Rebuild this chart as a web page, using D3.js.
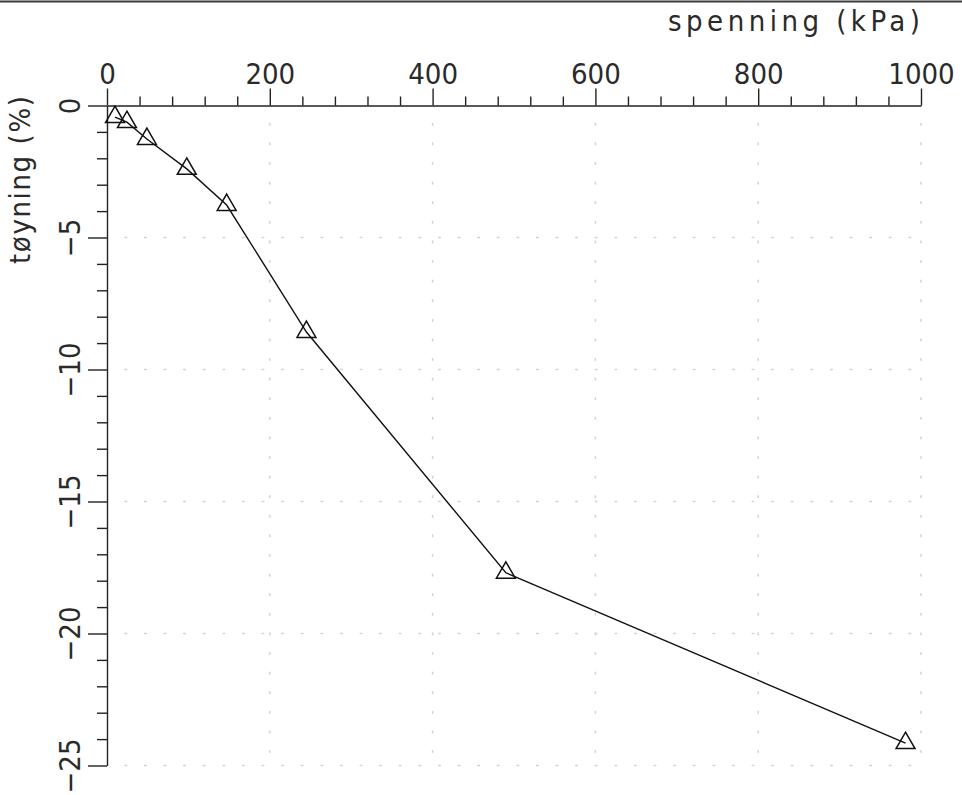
<!DOCTYPE html>
<html>
<head>
<meta charset="utf-8">
<script src="https://cdn.jsdelivr.net/npm/d3@7"></script>
<style>
  html, body { margin: 0; padding: 0; background: #fff; }
  svg { display: block; }
  text { font-family: "Liberation Sans Narrow", "DejaVu Sans Condensed", "Liberation Sans", sans-serif; fill: #2a2a2a; }
</style>
</head>
<body>
<svg id="chart" width="962" height="795"></svg>
<script>
// ---- data ----
const spenning = [9.8, 24.5, 49, 98, 147, 245, 490, 981];          // kPa
const toyning  = [-0.44, -0.63, -1.27, -2.4, -3.77, -8.58, -17.7, -24.15]; // %
const xMajorTicks = [0, 200, 400, 600, 800, 1000];
const yMajorTicks = [0, -5, -10, -15, -20, -25];
const xTitle = "spenning (kPa)";
const yTitle = "tøyning (%)";

const svg = d3.select("#chart");
const W = 962, H = 795;
const tickFont = "'Liberation Sans Narrow', 'DejaVu Sans Condensed', sans-serif";

const x = d3.scaleLinear().domain([0, 1000]).range([107, 921]);
const y = d3.scaleLinear().domain([0, -25]).range([105.5, 765.5]);

// scanned page edge at top
svg.append("line")
  .attr("x1", 0).attr("x2", W).attr("y1", 1.5).attr("y2", 1.5)
  .attr("stroke", "#3a3a3a").attr("stroke-width", 2.2);

// dotted grid
const grid = svg.append("g").attr("stroke", "#d4d4d4").attr("stroke-width", 1.6)
  .attr("stroke-dasharray", "1.6,18").attr("stroke-linecap", "round");
grid.selectAll(".gx").data(xMajorTicks.filter(d => d !== 0)).join("line")
  .attr("x1", d => x(d)).attr("x2", d => x(d))
  .attr("y1", y(0) + 18).attr("y2", y(-25));
grid.selectAll(".gy").data(yMajorTicks.filter(d => d !== 0)).join("line")
  .attr("x1", x(0) + 18).attr("x2", x(1000))
  .attr("y1", d => y(d)).attr("y2", d => y(d));

// x axis (top): minor ticks
const xMinor = d3.range(0, 1001, 40).filter(d => d % 200 !== 0);
svg.append("g").attr("transform", `translate(0,${y(0)})`)
  .call(d3.axisTop(x).tickValues(xMinor).tickSize(9).tickFormat(""))
  .call(g => g.select(".domain").remove())
  .call(g => g.selectAll("line").attr("stroke", "#222").attr("stroke-width", 1.4));
// x axis major
svg.append("g").attr("transform", `translate(0,${y(0)})`)
  .call(d3.axisTop(x).tickValues(xMajorTicks).tickSize(17).tickSizeOuter(0).tickPadding(5).tickFormat(d3.format("d")))
  .call(g => g.select(".domain").attr("stroke", "#222").attr("stroke-width", 1.4))
  .call(g => g.selectAll("line").attr("stroke", "#222").attr("stroke-width", 1.4))
  .call(g => g.selectAll("text").attr("font-size", 29).attr("fill", "#2a2a2a")
      .style("font-family", tickFont));

// y axis (left): minor ticks
const yMinor = d3.range(0, -26, -1).filter(d => d % 5 !== 0);
svg.append("g").attr("transform", `translate(${x(0)},0)`)
  .call(d3.axisLeft(y).tickValues(yMinor).tickSize(10).tickFormat(""))
  .call(g => g.select(".domain").remove())
  .call(g => g.selectAll("line").attr("stroke", "#222").attr("stroke-width", 1.4));
// y axis major
svg.append("g").attr("transform", `translate(${x(0)},0)`)
  .call(d3.axisLeft(y).tickValues(yMajorTicks).tickSize(19).tickSizeOuter(0).tickFormat(d3.format("d")))
  .call(g => g.select(".domain").attr("stroke", "#222").attr("stroke-width", 1.4))
  .call(g => g.selectAll("line").attr("stroke", "#222").attr("stroke-width", 1.4))
  .call(g => g.selectAll("text")
      .attr("x", null).attr("dy", null)
      .attr("text-anchor", "middle")
      .attr("transform", "translate(-27,0) rotate(-90)")
      .attr("font-size", 29).attr("fill", "#2a2a2a")
      .style("font-family", tickFont));

// axis titles
svg.append("text")
  .attr("x", 920).attr("y", 31)
  .attr("text-anchor", "end")
  .attr("font-size", 29)
  .attr("textLength", 252).attr("lengthAdjust", "spacing")
  .text(xTitle);

svg.append("text")
  .attr("transform", "translate(30,180) rotate(-90)")
  .attr("text-anchor", "middle")
  .attr("font-size", 29)
  .attr("textLength", 168).attr("lengthAdjust", "spacing")
  .text(yTitle);

// data line
const pts = spenning.map((v, i) => [v, toyning[i]]);
svg.append("path")
  .datum(pts)
  .attr("fill", "none").attr("stroke", "#111").attr("stroke-width", 1.4)
  .attr("d", d3.line().x(d => x(d[0])).y(d => y(d[1])));

// triangle markers
svg.append("g").selectAll("path").data(pts).join("path")
  .attr("transform", d => `translate(${x(d[0])},${y(d[1])})`)
  .attr("d", d3.symbol().type(d3.symbolTriangle).size(155))
  .attr("fill", "none").attr("stroke", "#111").attr("stroke-width", 1.5);
</script>
</body>
</html>
